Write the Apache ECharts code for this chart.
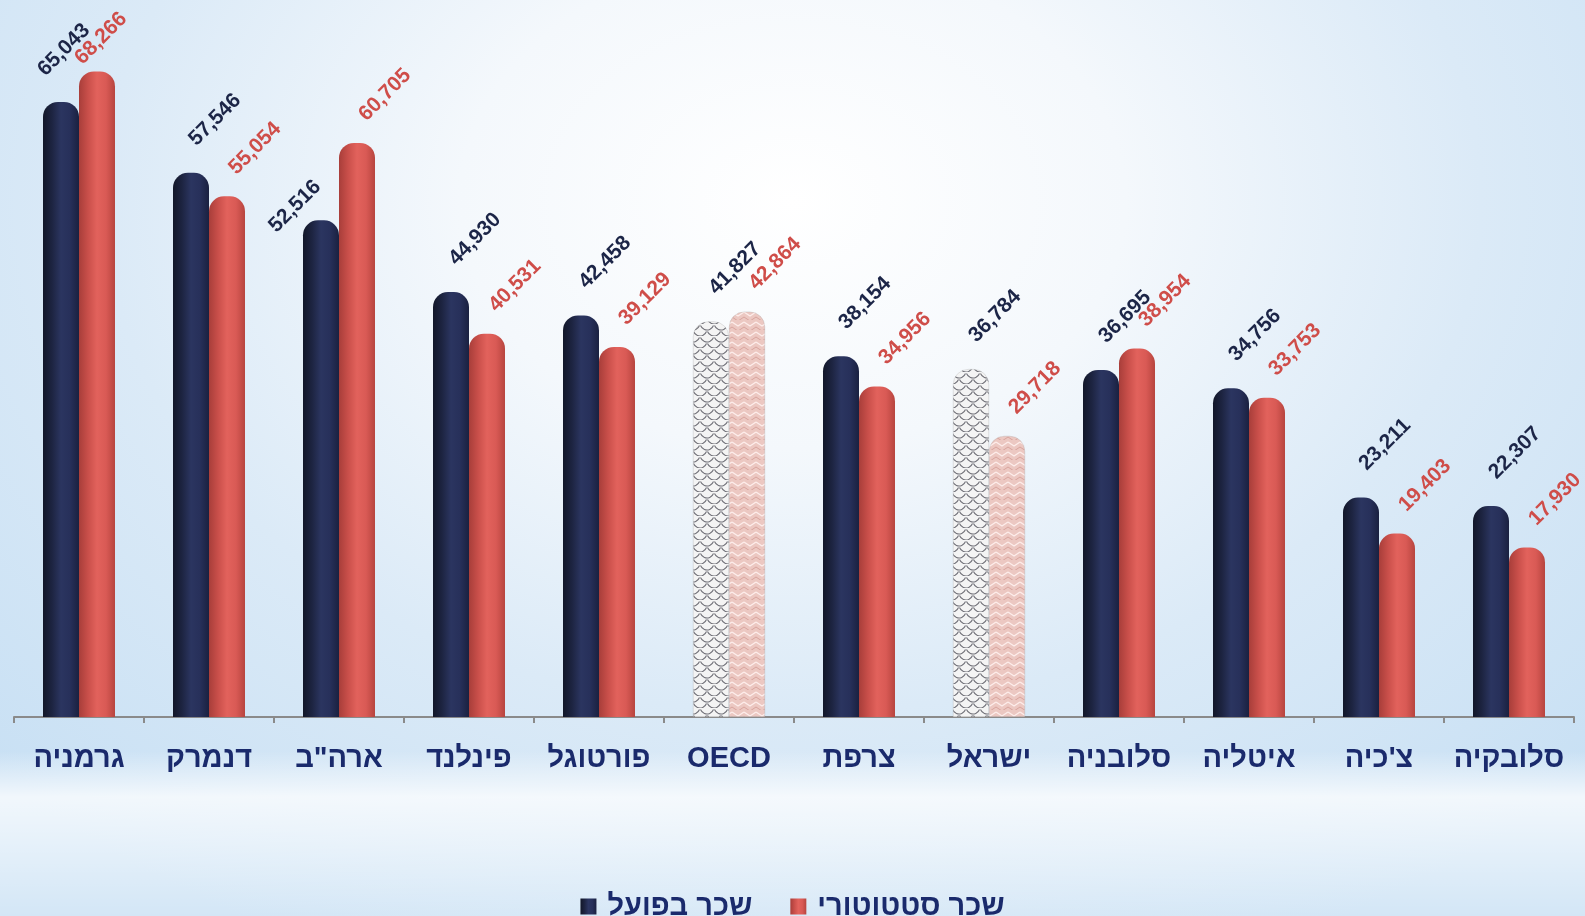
<!DOCTYPE html>
<html>
<head>
<meta charset="utf-8">
<script src="https://cdn.jsdelivr.net/npm/echarts@6/dist/echarts.min.js"></script>
<style>
html,body{margin:0;padding:0;width:1585px;height:916px;overflow:hidden;}
body{
  background:
    linear-gradient(to bottom, rgba(255,255,255,0) 82%, rgba(255,255,255,0.75) 87%, rgba(255,255,255,0.55) 92%, rgba(255,255,255,0.2) 100%),
    radial-gradient(ellipse 70% 90% at 50% 22%, #ffffff 0%, #f4f8fc 30%, #dbeaf7 62%, #c8e0f4 100%);
}
#chart{width:1585px;height:916px;}
</style>
</head>
<body>
<div id="chart"></div>
<script>
const categories = ['גרמניה','דנמרק','ארה"ב','פינלנד','פורטוגל','OECD','צרפת','ישראל','סלובניה','איטליה','צ\'כיה','סלובקיה'];
const actualPay = [65043,57546,52516,44930,42458,41827,38154,36784,36695,34756,23211,22307];
const statutoryPay = [68266,55054,60705,40531,39129,42864,34956,29718,38954,33753,19403,17930];
const seriesNames = ['שכר בפועל','שכר סטטוטורי'];
const patternedCategories = ['OECD','ישראל'];

const FONT = '"Liberation Sans", Arial, "DejaVu Sans", sans-serif';
const NAVY_TEXT = '#1c2547';
const RED_TEXT = '#cf4d49';
const AXIS_TEXT = '#1a2a6c';
const BAR_W = 36;

function cyl(stops){
  return {type:'linear',x:0,y:0,x2:1,y2:0,colorStops:stops.map((c,i)=>({offset:i/(stops.length-1),color:c}))};
}
const navyGrad = cyl(['#121729','#1d2441','#2b3560','#27305a','#1a2140']);
const redGrad = cyl(['#a83e3a','#c94f4a','#e2625c','#d95a55','#b7453f']);

function makePattern(w, h, bg, draw){
  const c = document.createElement('canvas');
  c.width = w; c.height = h;
  const g = c.getContext('2d');
  g.fillStyle = bg; g.fillRect(0,0,w,h);
  draw(g);
  return {image:c, repeat:'repeat'};
}
const navyPattern = makePattern(14, 12, '#f4f4f4', g=>{
  g.strokeStyle='rgba(80,80,90,0.8)'; g.lineWidth=1.1;
  g.beginPath(); g.arc(7,-1,7,0.12*Math.PI,0.88*Math.PI); g.stroke();
  g.beginPath(); g.arc(0,5,7,0.12*Math.PI,0.88*Math.PI); g.stroke();
  g.beginPath(); g.arc(14,5,7,0.12*Math.PI,0.88*Math.PI); g.stroke();
});
const redPattern = makePattern(12, 10, '#ecc8c2', g=>{
  g.strokeStyle='rgba(255,242,240,0.9)'; g.lineWidth=1.3;
  g.beginPath(); g.moveTo(0,2); g.lineTo(6,6); g.lineTo(12,2); g.stroke();
  g.strokeStyle='rgba(200,135,130,0.55)'; g.lineWidth=1;
  g.beginPath(); g.moveTo(0,7); g.lineTo(6,11); g.lineTo(12,7); g.stroke();
});

function buildData(values, pattern, positions){
  return values.map((v,i)=>{
    const item = {value:v};
    if (patternedCategories.includes(categories[i])) {
      item.itemStyle = {color:pattern, borderColor:'rgba(150,150,150,0.5)', borderWidth:0.5};
    }
    if (positions) item.label = {position:positions[i]};
    return item;
  });
}

const fmt = p => p.value.toLocaleString('en-US');
const labelBase = {show:true, formatter:fmt, rotate:45, align:'center', verticalAlign:'middle',
  fontFamily:FONT, fontSize:21, fontWeight:'bold'};

const chart = echarts.init(document.getElementById('chart'), null, {renderer:'canvas'});
chart.setOption({
  backgroundColor:'transparent',
  animation:false,
  grid:{left:14, right:11, top:55, bottom:199},
  legend:{
    data:seriesNames,
    top:887, left:'center',
    icon:'rect', itemWidth:16, itemHeight:16, itemGap:38,
    textStyle:{fontFamily:FONT, fontSize:29, fontWeight:'bold', color:AXIS_TEXT, padding:[0,0,0,6]}
  },
  xAxis:{
    type:'category',
    data:categories,
    boundaryGap:true,
    axisLine:{lineStyle:{color:'#8a8a8a', width:2}},
    axisTick:{show:true, interval:0, length:6, lineStyle:{color:'#8a8a8a', width:2}},
    axisLabel:{interval:0, fontFamily:FONT, fontSize:29, fontWeight:'bold', color:AXIS_TEXT, margin:27}
  },
  yAxis:{type:'value', min:0, max:70000, show:false, splitLine:{show:false}},
  series:[
    {
      name:seriesNames[0], type:'bar', barWidth:BAR_W, barGap:'0%',
      data:buildData(actualPay, navyPattern),
      itemStyle:{color:navyGrad, borderRadius:[15,15,0,0]},
      label:Object.assign({color:NAVY_TEXT, position:[40,-52]}, labelBase)
    },
    {
      name:seriesNames[1], type:'bar', barWidth:BAR_W, barGap:'0%',
      data:buildData(statutoryPay, redPattern),
      itemStyle:{color:redGrad, borderRadius:[15,15,0,0]},
      label:Object.assign({color:RED_TEXT, position:[45,-48]}, labelBase)
    }
  ]
});

// Label placement rules (relative to each bar's top centre)
const navyPos = [], redPos = [];
categories.forEach((c,i)=>{
  let n = [24,-53], r = [28,-48];
  if (statutoryPay[i] - actualPay[i] > 5000) n = [-26,-14];
  const redTop = chart.convertToPixel({seriesIndex:1}, [i, statutoryPay[i]])[1];
  if (redTop + r[1] - 30 < 5) { r = [r[0]-24, r[1]+15]; n = [n[0]-21, n[1]+1]; }
  navyPos.push([BAR_W/2 + n[0], n[1]]);
  redPos.push([BAR_W/2 + r[0], r[1]]);
});
chart.setOption({series:[
  {data:buildData(actualPay, navyPattern, navyPos)},
  {data:buildData(statutoryPay, redPattern, redPos)}
]});
</script>
</body>
</html>
